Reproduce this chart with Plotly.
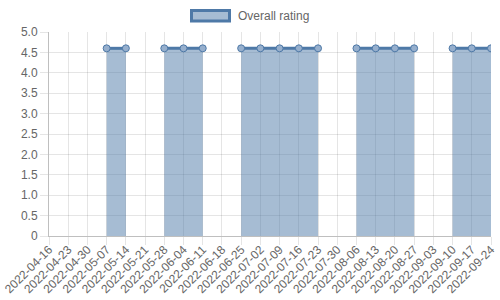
import plotly.graph_objects as go

dates = ["2022-04-16", "2022-04-23", "2022-04-30", "2022-05-07", "2022-05-14", "2022-05-21",
         "2022-05-28", "2022-06-04", "2022-06-11", "2022-06-18", "2022-06-25", "2022-07-02",
         "2022-07-09", "2022-07-16", "2022-07-23", "2022-07-30", "2022-08-06", "2022-08-13",
         "2022-08-20", "2022-08-27", "2022-09-03", "2022-09-10", "2022-09-17", "2022-09-24"]
rating = [None, None, None, 4.6, 4.6, None,
          4.6, 4.6, 4.6, None, 4.6, 4.6,
          4.6, 4.6, 4.6, None, 4.6, 4.6,
          4.6, 4.6, None, 4.6, 4.6, 4.6]
series_name = "Overall rating"
ytick_vals = [0, 0.5, 1, 1.5, 2, 2.5, 3, 3.5, 4, 4.5, 5]
ytick_text = ["0", "0.5", "1.0", "1.5", "2.0", "2.5", "3.0", "3.5", "4.0", "4.5", "5.0"]

LINE = "#4e79a7"
FILL = "rgba(78,121,167,0.5)"
FONT = "Liberation Sans, Arial, sans-serif"
GRID = "rgba(0,0,0,0.1)"

# split the series into contiguous segments so the fill does not bridge gaps
segments = []
cur = []
for d, v in zip(dates, rating):
    if v is None:
        if cur:
            segments.append(cur)
            cur = []
    else:
        cur.append((d, v))
if cur:
    segments.append(cur)

fig = go.Figure()
# invisible trace to keep all categories on the axis
fig.add_trace(go.Scatter(x=dates, y=rating, mode="lines", line=dict(width=0),
                         showlegend=False, hoverinfo="skip"))
for seg in segments:
    fig.add_trace(go.Scatter(
        x=[s[0] for s in seg], y=[s[1] for s in seg], mode="lines+markers", name=series_name,
        fill="tozeroy", fillcolor=FILL,
        line=dict(color=LINE, width=3),
        marker=dict(size=7, color="rgba(150,175,205,1)", line=dict(color=LINE, width=1)),
        showlegend=False,
    ))

L, R, T, B = 49, 9, 32, 64
W, H = 500, 300
pw, ph = W - L - R, H - T - B

def px(x):
    return (x - L) / pw

def py(y):
    return (H - B - y) / ph

fig.add_shape(type="rect", xref="paper", yref="paper",
              x0=px(191.5), x1=px(229.5), y0=py(21), y1=py(10.5),
              line=dict(color=LINE, width=3), fillcolor=FILL)
fig.add_annotation(text=series_name, xref="paper", yref="paper",
                   x=px(236), y=py(15.5), xanchor="left", yanchor="middle",
                   showarrow=False, font=dict(family=FONT, size=12, color="#666"))

fig.update_layout(
    width=W, height=H,
    margin=dict(l=L, r=R, t=T, b=B),
    paper_bgcolor="white", plot_bgcolor="white",
    font=dict(family=FONT, size=12, color="#666"),
    xaxis=dict(type="category", categoryorder="array", categoryarray=dates,
               range=[0, len(dates) - 1], tickangle=-45, automargin=False,
               showgrid=True, gridcolor=GRID, gridwidth=1,
               ticks="outside", ticklen=8, tickcolor=GRID,
               ticklabelstandoff=-7,
               showline=True, linecolor="rgba(0,0,0,0.25)", linewidth=1,
               zeroline=False, tickfont=dict(size=12, color="#666")),
    yaxis=dict(range=[0, 5], tickvals=ytick_vals, ticktext=ytick_text, automargin=False,
               showgrid=True, gridcolor=GRID, gridwidth=1,
               ticks="outside", ticklen=8, tickcolor=GRID,
               showline=True, linecolor="rgba(0,0,0,0.25)", linewidth=1,
               zeroline=False, tickfont=dict(size=12, color="#666")),
)

fig.write_html("out.html")
